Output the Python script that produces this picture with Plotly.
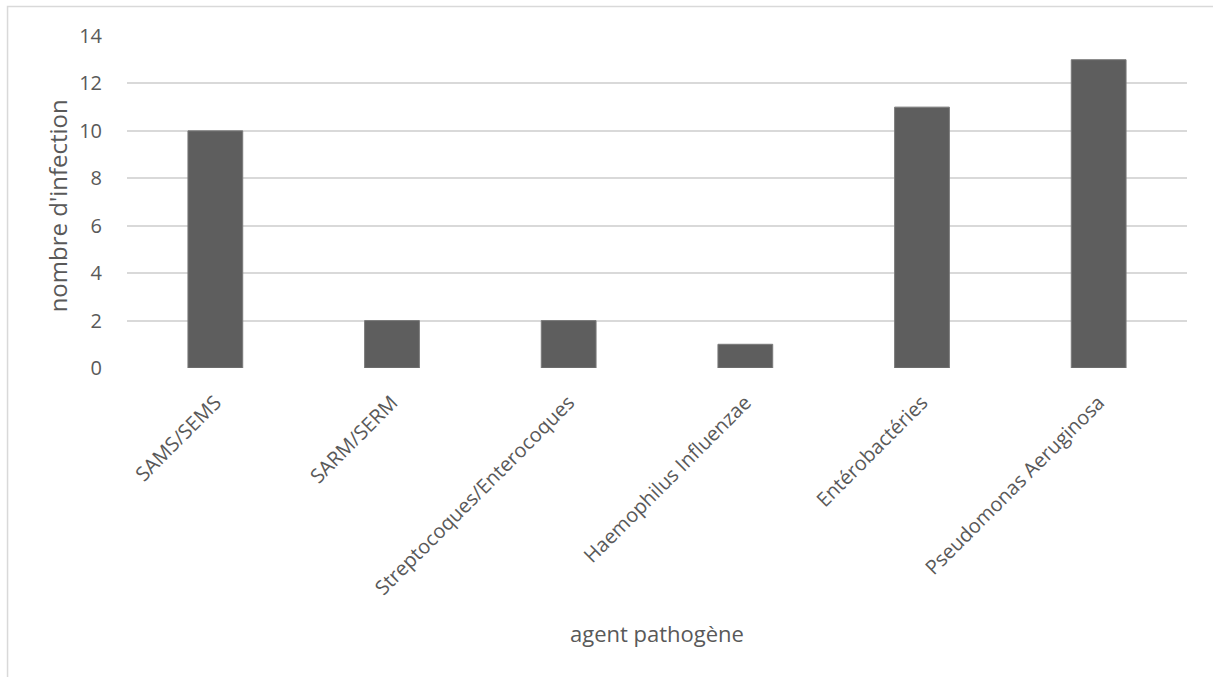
import plotly.graph_objects as go

categories = ["SAMS/SEMS", "SARM/SERM", "Streptocoques/Enterocoques",
              "Haemophilus Influenzae", "Entérobactéries", "Pseudomonas Aeruginosa"]
values = [10, 2, 2, 1, 11, 13]
y_ticks = [0, 2, 4, 6, 8, 10, 12, 14]
x_title = "agent pathogène"
y_title = "nombre d'infection"

fig = go.Figure()
fig.add_trace(go.Bar(
    x=categories, y=values,
    marker=dict(color="#5e5e5e", line=dict(color="#7a7a7a", width=1)),
))

fig.update_layout(
    width=1213, height=677,
    margin=dict(l=127, r=26, t=36, b=309),
    paper_bgcolor="white", plot_bgcolor="white",
    bargap=0.69,
    showlegend=False,
    font=dict(family="Open Sans", color="#595959", size=20),
    xaxis=dict(
        tickangle=-45,
        tickfont=dict(size=20, color="#595959"),
        showgrid=False, showline=False, zeroline=False,
        ticks="outside", ticklen=14, tickcolor="rgba(0,0,0,0)",
        automargin=False,
    ),
    yaxis=dict(
        range=[0, 14], tickvals=y_ticks,
        tickfont=dict(size=20, color="#595959"),
        showgrid=True, gridcolor="#d9d9d9", gridwidth=1.5,
        zeroline=False, showline=False,
        ticks="outside", ticklen=20, tickcolor="rgba(0,0,0,0)",
        automargin=False,
    ),
    annotations=[
        dict(text=x_title, xref="paper", yref="paper", x=0.5, y=-0.798,
             xanchor="center", yanchor="middle", showarrow=False,
             font=dict(size=22, color="#595959")),
        dict(text=y_title, xref="paper", yref="paper", x=-0.0660, y=0.487,
             xanchor="center", yanchor="middle", showarrow=False, textangle=-90,
             font=dict(size=24, color="#595959")),
    ],
    shapes=[dict(type="rect", xref="paper", yref="paper",
                 x0=-0.1127, x1=1.03, y0=-0.95, y1=1.0889,
                 line=dict(color="#d9d9d9", width=1.5), fillcolor="rgba(0,0,0,0)", layer="below")],
)

fig.write_html("out.html", config={"displayModeBar": False},
               post_script="document.body.style.margin='0';")
